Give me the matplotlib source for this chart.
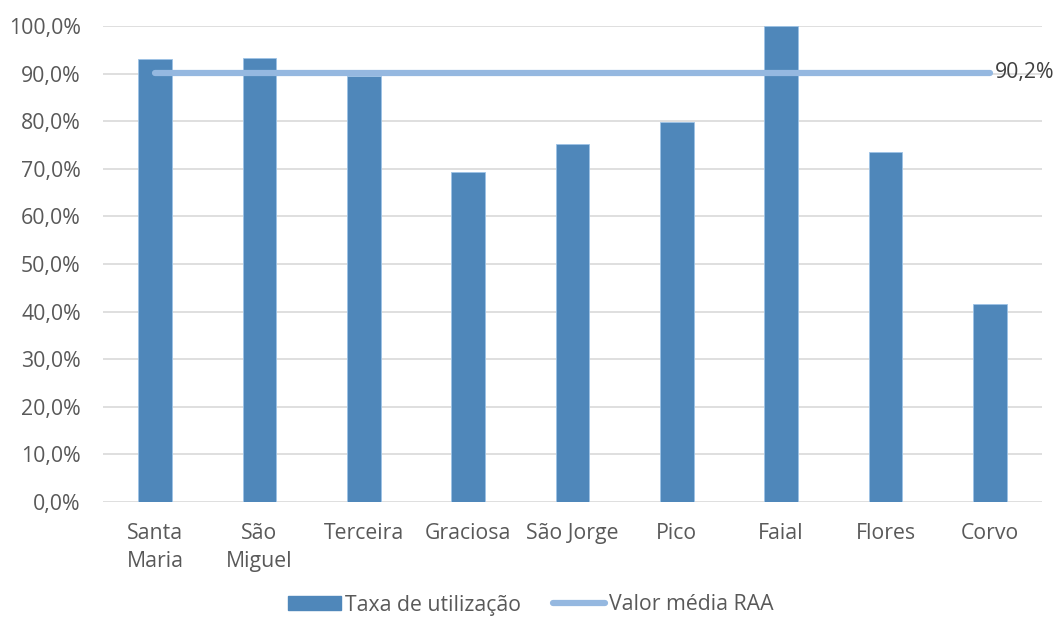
import matplotlib
matplotlib.use("Agg")
import matplotlib.pyplot as plt
from matplotlib.ticker import FuncFormatter, MultipleLocator
from matplotlib.lines import Line2D
from matplotlib.patches import Patch

categories = ["Santa\nMaria", "São\nMiguel", "Terceira", "Graciosa", "São Jorge",
              "Pico", "Faial", "Flores", "Corvo"]
taxa = [93.1, 93.2, 89.5, 69.4, 75.3, 79.8, 100.0, 73.5, 41.7]
media_raa = 90.2

bar_color = "#4F87BA"
line_color = "#95B8E0"
text_color = "#595959"
grid_color = "#D9D9D9"

plt.rcParams['font.family'] = ['Open Sans', 'DejaVu Sans']
fs = 15.3

fig = plt.figure(figsize=(10.61, 6.17), dpi=100)
ax = fig.add_axes([103/1061, 1 - 502/617, (1042-103)/1061, (502-26)/617])

x = list(range(len(categories)))
ax.bar(x, taxa, width=0.32, color=bar_color, edgecolor="#9DC3E6", linewidth=0.6, zorder=2)
ax.plot([x[0], x[-1]], [media_raa, media_raa], color=line_color, linewidth=4.5,
        solid_capstyle="round", zorder=3)
ax.text(x[-1] + 0.05, media_raa, f"{media_raa:.1f}%".replace(".", ","), color="#404040",
        fontsize=fs, va="center", ha="left")

ax.set_xlim(-0.5, len(categories) - 0.5)
ax.set_ylim(0, 100)
ax.yaxis.set_major_locator(MultipleLocator(10))
ax.yaxis.set_major_formatter(FuncFormatter(lambda v, p: f"{v:.1f}%".replace(".", ",")))
ax.set_xticks(x)
ax.set_xticklabels(categories, linespacing=1.45)
ax.tick_params(axis="both", length=0, colors=text_color, labelsize=fs)
ax.tick_params(axis="y", pad=16)
ax.tick_params(axis="x", pad=15)
ax.grid(axis="y", color=grid_color, linewidth=1.2, zorder=0)
ax.set_axisbelow(True)
for s in ax.spines.values():
    s.set_visible(False)

handles = [Patch(facecolor=bar_color, edgecolor=bar_color),
           Line2D([0], [0], color=line_color, linewidth=4.5, solid_capstyle="round")]
fig.legend(handles, ["Taxa de utilização", "Valor média RAA"], loc="center",
           bbox_to_anchor=(531/1061, 1 - 605/617), ncol=2, frameon=False,
           fontsize=fs, labelcolor=text_color, handlelength=2.45, handleheight=0.6,
           handletextpad=0.2, columnspacing=1.5)

fig.savefig("out.png", dpi=100)
